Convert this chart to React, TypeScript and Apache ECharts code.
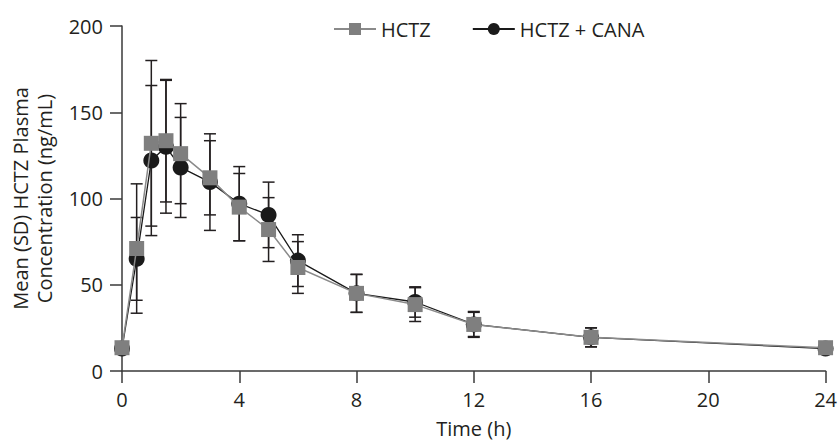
import React, { useEffect, useRef } from "react";
import * as echarts from "echarts";

const times = [0, 0.5, 1, 1.5, 2, 3, 4, 5, 6, 8, 10, 12, 16, 24];
const hctzMean = [13.5, 71, 132, 133.5, 126, 112, 95, 82, 60, 45, 38.5, 27, 19.5, 13.5];
const hctzSD = [3, 37.5, 48, 35.5, 29, 21.5, 19.5, 18.5, 15, 11, 9.8, 7.5, 5.5, 3];
const canaMean = [13, 65, 122, 130, 118, 109.5, 97, 90.5, 64, 45, 40, 27, 19.5, 13];
const canaSD = [3, 24, 43.5, 38.5, 29, 28, 21.5, 19, 15, 11, 8.8, 7, 5.5, 3];
const seriesNames = ["HCTZ", "HCTZ + CANA"];
const xTicks = [0, 4, 8, 12, 16, 20, 24];
const yTicks = [0, 50, 100, 150, 200];

const FONT = "Open Sans";
const TEXT = "#231f20";

export default function App() {
  const ref = useRef<HTMLDivElement>(null);
  useEffect(() => {
    if (!ref.current) return;
    const chart = echarts.init(ref.current, undefined, { renderer: "svg" });
    const errData: number[][] = [];
    times.forEach((t, i) => {
      errData.push([t, canaMean[i] - canaSD[i], canaMean[i] + canaSD[i]]);
      errData.push([t, hctzMean[i] - hctzSD[i], hctzMean[i] + hctzSD[i]]);
    });
    const ebStyle = { stroke: TEXT, lineWidth: 1.5 };
    chart.setOption({
      animation: false,
      backgroundColor: "#ffffff",
      textStyle: { fontFamily: FONT, color: TEXT },
      grid: { left: 122, right: 10, top: 26, bottom: 67, containLabel: false },
      legend: {
        data: seriesNames,
        top: 14,
        left: 328,
        itemWidth: 42,
        itemHeight: 15,
        itemGap: 41,
        textStyle: { fontFamily: FONT, fontSize: 20, color: TEXT },
      },
      xAxis: {
        type: "value",
        min: xTicks[0],
        max: xTicks[xTicks.length - 1],
        interval: 4,
        name: "Time (h)",
        nameLocation: "middle",
        nameGap: 47,
        nameTextStyle: { fontFamily: FONT, fontSize: 20, color: TEXT },
        axisLine: { lineStyle: { color: "#3a3a3a", width: 1.5 } },
        axisTick: { show: true, length: 12, lineStyle: { color: "#3a3a3a", width: 1.5 } },
        axisLabel: { fontFamily: FONT, fontSize: 20, color: TEXT, margin: 18 },
        splitLine: { show: false },
      },
      yAxis: {
        type: "value",
        min: yTicks[0],
        max: yTicks[yTicks.length - 1],
        interval: 50,
        name: "Mean (SD) HCTZ Plasma\nConcentration (ng/mL)",
        nameLocation: "middle",
        nameGap: 66,
        nameTextStyle: { fontFamily: FONT, fontSize: 20, color: TEXT, lineHeight: 24 },
        axisLine: { show: true, lineStyle: { color: "#3a3a3a", width: 1.5 } },
        axisTick: { show: true, length: 12, lineStyle: { color: "#3a3a3a", width: 1.5 } },
        axisLabel: { fontFamily: FONT, fontSize: 20, color: TEXT, margin: 19 },
        splitLine: { show: false },
      },
      series: [
        {
          type: "custom",
          name: "SD",
          z: 1,
          data: errData,
          encode: { x: 0, y: [1, 2] },
          renderItem: (params: any, api: any) => {
            const x = api.value(0);
            const lo = api.value(1);
            const hi = api.value(2);
            const pHi = api.coord([x, hi]);
            const pLo = api.coord([x, lo]);
            const hw = 6;
            return {
              type: "group",
              children: [
                { type: "line", shape: { x1: pHi[0], y1: pHi[1], x2: pLo[0], y2: pLo[1] }, style: ebStyle },
                { type: "line", shape: { x1: pHi[0] - hw, y1: pHi[1], x2: pHi[0] + hw, y2: pHi[1] }, style: ebStyle },
                { type: "line", shape: { x1: pLo[0] - hw, y1: pLo[1], x2: pLo[0] + hw, y2: pLo[1] }, style: ebStyle },
              ],
            };
          },
        },
        {
          type: "line",
          name: seriesNames[1],
          z: 3,
          data: times.map((t, i) => [t, canaMean[i]]),
          symbol: "circle",
          symbolSize: 16,
          lineStyle: { color: "#1a1a1a", width: 1.3 },
          itemStyle: { color: "#1a1a1a", borderWidth: 0 },
        },
        {
          type: "line",
          name: seriesNames[0],
          z: 4,
          data: times.map((t, i) => [t, hctzMean[i]]),
          symbol: "rect",
          symbolSize: 15,
          lineStyle: { color: "#8a8a8a", width: 1.5 },
          itemStyle: { color: "#7f7f7f", borderWidth: 0 },
        },
      ],
    });
    return () => chart.dispose();
  }, []);
  return (
    <div
      ref={ref}
      style={{ position: "absolute", left: 0, top: 0, width: 840, height: 443 }}
    />
  );
}
